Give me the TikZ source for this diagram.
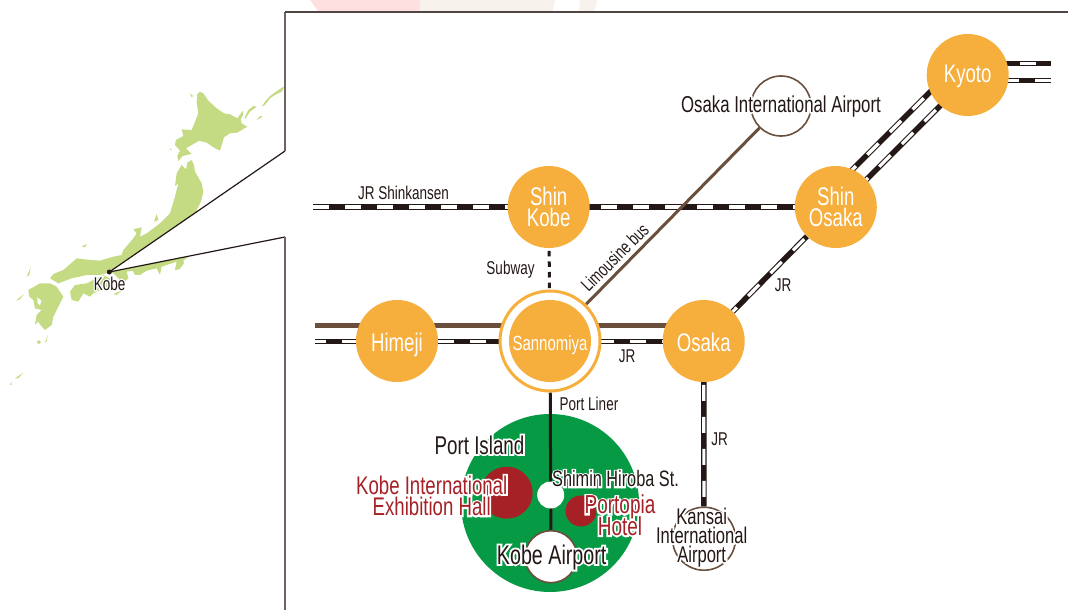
\documentclass[tikz,border=0pt]{standalone}
\usepackage{fontspec}
\setmainfont[FakeStretch=0.73]{Liberation Sans}
\newfontfamily\haloface[FakeStretch=0.73,FakeBold=14]{Liberation Sans}
\usetikzlibrary{backgrounds}
\definecolor{orangeS}{HTML}{F6AE3C}
\definecolor{inkK}{HTML}{231815}
\definecolor{brownB}{HTML}{6A4F3C}
\definecolor{greenI}{HTML}{069A44}
\definecolor{redH}{HTML}{A62126}
\definecolor{mapG}{HTML}{C5DB83}
\definecolor{frameC}{HTML}{6E6363}
\newcommand{\hl}[1]{\leavevmode\rlap{\haloface\color{white}#1}#1}
\newcommand{\sz}[2]{\fontsize{#1}{#2}\selectfont\lineskiplimit=-30pt\relax}
\tikzset{
  x=1pt,y=-1pt,
  station/.style={circle,fill=orangeS,text=white,minimum size=82pt,inner sep=0pt,align=center,font=\sz{25.5}{21.5}},
  small/.style={inner sep=0pt,anchor=base,text=inkK,font=\sz{18.5}{20}},
  biglabel/.style={inner sep=0pt,text=inkK,align=center},
  redlabel/.style={inner sep=0pt,text=redH,align=center,font=\sz{25.5}{21.5}},
  railblack/.style={line width=5.5pt,draw=inkK},
  railwhite/.style={line width=3.2pt,draw=white,dash pattern=on 16pt off 16pt},
  land/.style={fill=mapG,draw=none},
  stop/.style={circle,fill=white,inner sep=0pt},
  airport/.style={stop,draw=brownB,line width=1.6pt},
  leader/.style={draw=inkK,line width=1.2pt},
}
\begin{document}
\begin{tikzpicture}
\useasboundingbox (0,0) rectangle (1068,610);
% stations
\node[station,text height=15.4pt,text depth=0pt] (kyoto) at (967.7,75) {Kyoto};
\node[station] (shinosaka) at (835.8,207) {Shin\\Osaka};
\node[station] (shinkobe) at (548.7,207) {Shin\\Kobe};
\node[station,text height=21pt,text depth=0pt] (himeji) at (397,341) {Himeji};
\node[station,text height=21pt,text depth=0pt] (osaka) at (703.7,341) {Osaka};
\node[circle,fill=white,draw=orangeS,line width=3pt,minimum size=100pt,inner sep=0pt] (ring) at (550,341) {};
\node[station,font=\sz{20.5}{21},text height=18pt,text depth=0pt] (sannomiya) at (550,341) {Sannomiya};
\node[airport,minimum size=60pt] (itami) at (781,106) {};
\node[circle,fill=redH,minimum size=52pt,inner sep=0pt] (hall) at (506.7,492.7) {};
\node[circle,fill=redH,minimum size=31pt,inner sep=0pt] (hotel) at (581,511) {};
\node[stop,minimum size=27pt] (shimin) at (550.7,495) {};
\node[airport,minimum size=52pt] (kobeair) at (551,556.7) {};
\node[airport,minimum size=63pt] (kansai) at (704,538.7) {};
\node[circle,fill=inkK,minimum size=5pt,inner sep=0pt] (kobept) at (109.3,272) {};
% free line ends
\coordinate (skw) at (313,207);
\coordinate (hw) at (315,341.3);
\coordinate (hc) at (703.7,341.3);
\coordinate (bw) at (315,325.3);
\coordinate (be) at (703.7,325.3);
\coordinate (ke1) at (1051,63.3);
\coordinate (ke1w) at (967.7,63.3);
\coordinate (ke2) at (1051,80.7);
\coordinate (ke2w) at (967.7,80.7);
\coordinate (d1a) at (826,196);
\coordinate (d1b) at (958,64);
\coordinate (d2a) at (837.4,208.6);
\coordinate (d2b) at (969.3,76.6);
\coordinate (fa) at (285,151);
\coordinate (fb) at (285,237);
\coordinate (fc) at (285,12);
\coordinate (fd) at (285,610);
\coordinate (fe) at (1068,12);
\begin{pgfonlayer}{background}
% faint print-through at the top edge
\fill[fill=red!35!white,opacity=.35] (310,0) -- (420,0) -- (420,11) -- (318,11) -- cycle;
\fill[fill=brown!20!white,opacity=.5] (420,0) -- (555,0) -- (553,11) -- (420,11) -- cycle;
\fill[fill=brown!20!white,opacity=.5] (580,0) -- (597,0) -- (595,11) -- (579,11) -- cycle;
% map of Japan, in units of a third of a pixel
\begin{scope}[x=0.33333pt,y=-0.33333pt,shift={(0,210)}]
\fill[land] (600,65) -- (610,70) -- (625,92) -- (650,115) -- (672,130) -- (690,133) -- (712,145) -- (728,122) -- (730,133) -- (722,148) -- (725,160) -- (742,170) -- (725,180) -- (712,188) -- (690,190) -- (672,202) -- (660,242) -- (645,235) -- (620,218) -- (598,212) -- (575,225) -- (558,235) -- (575,252) -- (560,255) -- (548,258) -- (535,273) -- (532,258) -- (540,242) -- (525,225) -- (528,210) -- (550,198) -- (545,178) -- (575,180) -- (585,155) -- (595,130) -- (590,95) -- (592,72) -- cycle;
\fill[land] (855,48) -- (845,65) -- (825,75) -- (810,85) -- (795,105) -- (785,110) -- (795,95) -- (810,78) -- (835,60) -- cycle;
\fill[land] (770,110) -- (750,125) -- (735,148) -- (735,140) -- (745,120) -- (760,108) -- cycle;
\fill[land] (788,140) -- (770,150) -- (780,138) -- cycle;
\fill[land] (570,70) -- (580,78) -- (575,82) -- cycle;
\fill[land] (512,235) -- (516,240) -- (510,239) -- cycle;
% Honshu
\fill[land] (545,285) -- (558,298) -- (562,278) -- (575,270) -- (582,285) -- (585,305) -- (605,340) -- (610,365) -- (603,395) -- (585,430) -- (620,480) -- (572,556) -- (550,572) -- (552,580) -- (538,598) -- (525,600) -- (530,575) -- (500,585) -- (485,590) -- (480,615) -- (470,595) -- (440,602) -- (420,615) -- (405,615) -- (398,602) -- (380,605) -- (385,625) -- (370,640) -- (355,625) -- (340,610) -- (330,607) -- (300,615) -- (260,615) -- (215,625) -- (175,640) -- (150,625) -- (160,612) -- (190,600) -- (230,565) -- (270,570) -- (300,572) -- (340,560) -- (365,555) -- (370,540) -- (400,505) -- (410,490) -- (400,478) -- (425,472) -- (420,500) -- (440,490) -- (480,460) -- (510,430) -- (525,380) -- (535,340) -- (525,348) -- (530,310) -- cycle;
% Shikoku
\fill[land] (210,665) -- (225,645) -- (260,640) -- (290,625) -- (310,615) -- (335,628) -- (340,650) -- (300,660) -- (280,670) -- (270,680) -- (250,670) -- (235,695) -- (215,690) -- cycle;
\fill[land] (340,672) -- (365,662) -- (350,675) -- cycle;
% Kyushu
\fill[land] (85,660) -- (120,640) -- (150,640) -- (170,650) -- (190,680) -- (180,700) -- (160,740) -- (155,765) -- (135,780) -- (125,770) -- (115,755) -- (105,765) -- (110,735) -- (125,720) -- (105,715) -- (100,690) -- (88,680) -- cycle;
\fill[white] (112,682) -- (124,692) -- (120,706) -- (112,698) -- cycle;
% small islands
\fill[land] (135,818) -- (143,795) -- (140,815) -- cycle;
\fill[land] (110,815) -- (118,811) -- (123,817) -- (115,823) -- cycle;
\fill[land] (45,925) -- (70,908) -- (55,925) -- cycle;
\fill[land] (30,945) -- (35,935) -- (35,945) -- cycle;
\fill[land] (80,620) -- (92,592) -- (88,615) -- cycle;
\fill[land] (48,692) -- (72,672) -- (60,688) -- cycle;
\fill[land] (245,530) -- (260,522) -- (255,532) -- cycle;
\fill[land] (462,455) -- (470,432) -- (475,450) -- cycle;
\end{scope}
% zoom wedge
\fill[white] (kobept.center) -- (fa) -- (fb) -- cycle;
\draw[leader] (kobept.center) -- (fa);
\draw[leader] (kobept.center) -- (fb);
\draw[draw=frameC,line width=1.4pt] (fc) -- (fa);
\draw[draw=frameC,line width=1.4pt] (fb) -- (fd);
\draw[draw=inkK!80!white,line width=1.2pt] (fc) -- (fe);
% Port Island
\fill[greenI] (550,503) circle[radius=89];
\draw[draw=inkK,line width=3pt] (ring) -- (kobeair);
% rails
\foreach \a/\b/\p in {skw/shinosaka/0,hw/hc/5,osaka/shinosaka/10,d1a/d1b/5.6,d2a/d2b/4.7,osaka/kansai/29.3,ke1/ke1w/17,ke2/ke2w/0}{
  \draw[railblack] (\a) -- (\b);
  \draw[railwhite,dash phase=\p] (\a) -- (\b);
}
% brown lines
\draw[draw=brownB,line width=5pt] (bw) -- (be);
\draw[draw=brownB,line width=3pt] (ring) -- (itami);
% subway
\draw[draw=inkK,line width=3pt,dash pattern=on 5.5pt off 5.1pt,dash phase=8] (shinkobe) -- (ring);
\end{pgfonlayer}
% texts
\node[small] (tkobe) at (109.6,290) {\hl{Kobe}};
\node[small] (tshink) at (403.5,199) {JR Shinkansen};
\node[small] (tsubway) at (510.5,274) {Subway};
\node[small,rotate=45] (tlimo) at (619.5,262) {Limousine bus};
\node[small] (tjr1) at (783,291) {JR};
\node[small] (tjr2) at (627,362) {JR};
\node[small] (tjr3) at (719.5,445) {JR};
\node[small] (tport) at (589,410.5) {Port Liner};
\node[biglabel,anchor=base,font=\sz{23}{22}] (titami) at (781,112) {\hl{Osaka International Airport}};
\node[biglabel,anchor=base,font=\sz{25.7}{22}] (tisland) at (479.5,454) {\hl{Port Island}};
\node[biglabel,anchor=base,font=\sz{22.3}{22}] (tshimin) at (615.5,486.7) {\hl{Shimin Hiroba St.}};
\node[redlabel] (thall) at (431.7,495.7) {\hl{Kobe International}\\\hl{Exhibition Hall}};
\node[redlabel,font=\sz{26}{21.5}] (thotel) at (620,515.3) {\hl{Portopia}\\\hl{Hotel}};
\node[biglabel,anchor=base,font=\sz{27}{22}] (tkair) at (551.7,564) {\hl{Kobe Airport}};
\node[biglabel,font=\sz{22.7}{18.8}] (tkans) at (701.7,537.5) {\hl{Kansai}\\\hl{International}\\\hl{Airport}};
\end{tikzpicture}
\end{document}
